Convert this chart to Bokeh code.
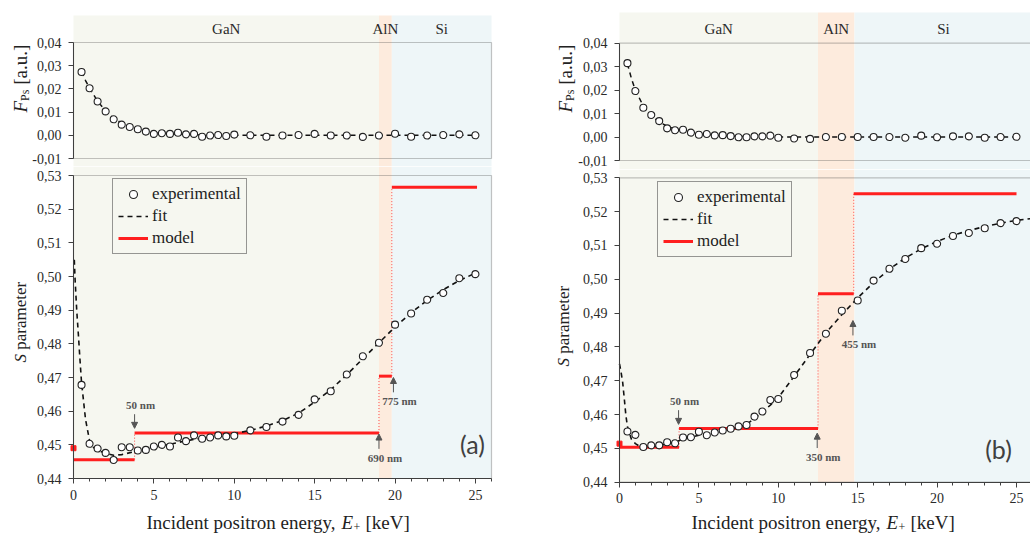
import math
from bokeh.plotting import figure
from bokeh.models import (Range1d, FixedTicker, CustomJSTickFormatter, BoxAnnotation, Label,
                          Legend, LegendItem, Arrow, NormalHead)
from bokeh.layouts import row, column
from bokeh.embed import file_html
from bokeh.resources import INLINE
from bokeh.core.properties import value

# ---------------- data ----------------
energy = [0.5, 1.0, 1.5, 2.0, 2.5, 3.0, 3.5, 4.0, 4.5, 5.0, 5.5, 6.0, 6.5, 7.0, 7.5, 8.0, 8.5, 9.0, 9.5, 10.0,
          11, 12, 13, 14, 15, 16, 17, 18, 19, 20, 21, 22, 23, 24, 25]

fps_a = [0.0273, 0.0203, 0.0146, 0.0103, 0.0069, 0.0046, 0.0036, 0.0026, 0.0016, 0.0006, 0.0009, 0.0006,
         0.0011, 0.0004, 0.0006, -0.0006, -0.0001, 0.0001, -0.0003, 0.0003,
         0.0000, -0.0006, -0.0001, 0.0001, 0.0006, -0.0001, -0.0001, -0.0007, -0.0001, 0.0007, -0.0006,
         -0.0001, 0.0001, 0.0004, 0.0000]
s_a = [0.4678, 0.4503, 0.4489, 0.4476, 0.4455, 0.4493, 0.4493, 0.4483, 0.4485, 0.4495, 0.4500, 0.4495,
       0.4522, 0.4511, 0.4528, 0.4518, 0.4522, 0.4528, 0.4525, 0.4527,
       0.4543, 0.4553, 0.4569, 0.4589, 0.4635, 0.4659, 0.4709, 0.4763, 0.4803, 0.4857, 0.4890, 0.4931,
       0.4951, 0.4995, 0.5007]

fps_b = [0.0315, 0.0196, 0.0125, 0.0094, 0.0068, 0.0037, 0.0029, 0.0031, 0.0019, 0.0010, 0.0013, 0.0007,
         0.0008, 0.0004, -0.0001, -0.0001, 0.0003, 0.0003, 0.0006, -0.0003,
         -0.0006, -0.0008, 0.0000, 0.0000, 0.0000, 0.0000, 0.0000, -0.0003, 0.0006, -0.0001, 0.0003,
         0.0003, -0.0003, 0.0000, 0.0001]
s_b = [0.4550, 0.4540, 0.4504, 0.4509, 0.4509, 0.4518, 0.4515, 0.4532, 0.4533, 0.4549, 0.4539, 0.4547,
       0.4553, 0.4558, 0.4565, 0.4569, 0.4594, 0.4609, 0.4643, 0.4646,
       0.4717, 0.4782, 0.4839, 0.4907, 0.4937, 0.4996, 0.5031, 0.5060, 0.5092, 0.5105, 0.5128, 0.5137,
       0.5151, 0.5166, 0.5172]

fitF_energy = [0.5, 0.75, 1.0, 1.5, 2.0, 2.5, 3.0, 3.5, 4.0, 5.0, 6.0, 7.0, 8.0, 10.0, 12.0, 15.0, 20.0, 25.0]
fitF_a = [0.0275, 0.0236, 0.0203, 0.0147, 0.0105, 0.0074, 0.0052, 0.0037, 0.0027, 0.0013, 0.0006, 0.0003,
          0.0001, 0.0, 0.0, 0.0, 0.0, 0.0]
fitF_b = [0.0312, 0.0250, 0.0200, 0.0132, 0.0090, 0.0064, 0.0046, 0.0034, 0.0026, 0.0014, 0.0008, 0.0004,
          0.0002, 0.0, 0.0, 0.0, 0.0, 0.0]

fitS_a_energy = [0.05, 0.1, 0.2, 0.3, 0.4, 0.5, 0.75, 1.0, 1.25, 1.5, 2, 2.5, 3, 4, 5, 6, 7, 8, 9, 10,
                 11, 12, 13, 14, 15, 16, 17, 18, 19, 20, 21, 22, 23, 24, 25]
fitS_a = [0.505, 0.499, 0.490, 0.483, 0.4755, 0.4685, 0.4575, 0.4512, 0.4492, 0.4484, 0.4475, 0.4469,
          0.4471, 0.4482, 0.4493, 0.4502, 0.4512, 0.4520, 0.4527, 0.4533, 0.4543, 0.4556, 0.4572, 0.4594,
          0.4627, 0.4664, 0.4708, 0.4756, 0.4803, 0.4850, 0.4892, 0.4929, 0.4961, 0.4988, 0.5010]

fitS_b_energy = [0.0, 0.1, 0.2, 0.3, 0.4, 0.5, 0.75, 1.0, 1.25, 1.5, 2, 2.5, 3, 3.5, 4, 5, 6, 7, 7.5, 8,
                 8.5, 9, 9.5, 10, 11, 12, 13, 14, 15, 16, 17, 18, 19, 20, 21, 22, 23, 24, 25, 26]
fitS_b = [0.4750, 0.4725, 0.4695, 0.4648, 0.4598, 0.4565, 0.4527, 0.4514, 0.4507, 0.4504, 0.4505, 0.4508,
          0.4513, 0.4519, 0.4527, 0.4539, 0.4547, 0.4556, 0.4562, 0.4571, 0.4588, 0.4607, 0.4628, 0.4650,
          0.4713, 0.4778, 0.4842, 0.4895, 0.4945, 0.4990, 0.5030, 0.5063, 0.5090, 0.5112, 0.5130, 0.5144,
          0.5156, 0.5166, 0.5174, 0.5180]

regions = ["GaN", "AlN", "Si"]
region_edges_a = [0.0, 19.0, 19.8, 26.0]
region_edges_b = [0.0, 12.5, 14.8, 26.0]

model_edges_a = [0.0, 3.8, 19.0, 19.8, 25.1]
model_S_a = [0.4456, 0.4535, 0.4704, 0.5265]
surface_S_a = 0.4490
model_edges_b = [0.0, 3.75, 12.5, 14.75, 25.0]
model_S_b = [0.4503, 0.4559, 0.4957, 0.5253]
surface_S_b = 0.4514

ann_text_a = ["50 nm", "690 nm", "775 nm"]
ann_E_a = [3.8, 19.0, 19.9]
ann_tip_a = [0.4549, 0.4532, 0.4700]
ann_dir_a = ["down", "up", "up"]
ann_text_b = ["50 nm", "350 nm", "455 nm"]
ann_E_b = [3.72, 12.45, 14.7]
ann_tip_b = [0.4571, 0.4545, 0.4878]
ann_dir_b = ["down", "up", "up"]

F_ticks = [-0.01, 0.0, 0.01, 0.02, 0.03, 0.04]
S_ticks = [0.44, 0.45, 0.46, 0.47, 0.48, 0.49, 0.50, 0.51, 0.52, 0.53]
E_ticks = [0, 5, 10, 15, 20, 25]
E_minor = list(range(0, 27))

# ---------------- style / layout ----------------
SERIF = "Liberation Serif"
REGION_COLORS = ["#f6f7f0", "#fdebdd", "#eef6f8"]
AX = "#404040"
RED = "#ff1f1f"
TOTAL_H = 536
fmt = CustomJSTickFormatter(code="return tick.toFixed(2).replace('.', ',');")


def style_axes(p):
    p.grid.visible = False
    p.outline_line_color = None
    p.background_fill_color = "white"
    p.border_fill_color = "white"
    for ax in p.axis:
        ax.axis_line_color = AX
        ax.major_tick_line_color = AX
        ax.major_tick_out = 5
        ax.major_tick_in = 0
        ax.minor_tick_line_color = AX
        ax.minor_tick_out = 3
        ax.minor_tick_in = 0
        ax.major_label_text_font = SERIF
        ax.major_label_text_font_size = "14px"
        ax.major_label_text_color = "#2a2a2a"
    p.yaxis.major_label_standoff = 7
    p.xaxis.major_label_standoff = 6


def lab(p, text, x, y, size, style="normal", angle=0.0, align="left", baseline="middle", color="#222"):
    p.add_layout(Label(x=x, y=y, x_units="screen", y_units="screen", text=text, angle=angle,
                       text_font=SERIF, text_font_size=f"{size}px", text_font_style=style,
                       text_align=align, text_baseline=baseline, text_color=color))


def yrange(v_hi, px_hi, v_lo, px_lo, top_px, bottom_px):
    scale = (px_lo - px_hi) / (v_hi - v_lo)
    return Range1d(v_lo - (bottom_px - px_lo) / scale, v_hi + (px_hi - top_px) / scale)


def make_panel(fps, S, fitF, fitS_E, fitS, region_edges, m_edges, m_S, surf, ann_text, ann_E, ann_tip,
               ann_dir, tag, geo):
    W = geo["width"]
    top_h = geo["top_h"]
    bot_h = TOTAL_H - top_h
    x0px, pxk = geo["x0"], geo["pxk"]
    xr = Range1d(-x0px / pxk, (W - x0px) / pxk)
    x_vis_end = min(region_edges[-1], (W - x0px) / pxk)
    box_right = region_edges[-1]

    yr1 = yrange(F_ticks[-1], geo["f_hi"], F_ticks[0], geo["f_lo"], 0, top_h)
    yr2 = yrange(S_ticks[-1], geo["s_hi"] - top_h, S_ticks[0], geo["s_lo"] - top_h, 0, bot_h)
    shade_top = F_ticks[-1] + (geo["f_hi"] - geo["shade_px"]) * (F_ticks[-1] - F_ticks[0]) / (geo["f_lo"] - geo["f_hi"])

    common = dict(output_backend="svg", toolbar_location=None, min_border=0, min_border_left=0,
                  min_border_right=0, min_border_top=0, min_border_bottom=0, x_range=xr)
    p1 = figure(frame_width=W, frame_height=top_h, y_range=yr1, **common)
    p2 = figure(frame_width=W, frame_height=bot_h, y_range=yr2, **common)

    for i in range(len(regions)):
        p1.add_layout(BoxAnnotation(left=region_edges[i], right=region_edges[i + 1], top=shade_top,
                                    fill_color=REGION_COLORS[i], fill_alpha=1.0, line_alpha=0,
                                    level="underlay"))
        p2.add_layout(BoxAnnotation(left=region_edges[i], right=region_edges[i + 1], bottom=S_ticks[0],
                                    fill_color=REGION_COLORS[i], fill_alpha=1.0, line_alpha=0,
                                    level="underlay"))

    # ---------- top panel: F_Ps ----------
    p1.xaxis.visible = False
    p1.yaxis.fixed_location = 0
    p1.yaxis.ticker = FixedTicker(ticks=F_ticks)
    p1.yaxis.formatter = fmt
    p1.yaxis.bounds = (F_ticks[0], F_ticks[-1])
    style_axes(p1)
    p1.yaxis.minor_tick_line_color = None
    p1.add_layout(BoxAnnotation(left=0, right=box_right, bottom=F_ticks[0], top=F_ticks[-1],
                                fill_alpha=0, line_color=AX, line_width=1.2))
    centers = [(region_edges[i] + region_edges[i + 1]) / 2 for i in range(len(regions))]
    p1.text(x=centers, y=[F_ticks[-1] + 0.0059] * len(regions), text=regions, text_font=value(SERIF),
            text_font_size="15px", text_align="center", text_baseline="middle", text_color="#2a2a2a")
    p1.line(fitF_energy, fitF, line_dash="5 4", line_width=1.5, color="#111")
    p1.scatter(energy, fps, size=7, marker="circle", fill_color="white", line_color="#222", line_width=1.1)

    fx, fy = geo["flab"]
    fy = fy - (166 - top_h)
    lab(p1, "F", fx, fy, 19, style="italic", angle=math.pi / 2)
    lab(p1, "Ps", fx + 4, fy + 11.6, 12, angle=math.pi / 2)
    lab(p1, "[a.u.]", fx, fy + 27.7, 19, angle=math.pi / 2)

    # ---------- bottom panel: S ----------
    p2.yaxis.fixed_location = 0
    p2.xaxis.fixed_location = S_ticks[0]
    p2.yaxis.ticker = FixedTicker(ticks=S_ticks)
    p2.yaxis.formatter = fmt
    p2.yaxis.bounds = (S_ticks[0], S_ticks[-1])
    p2.xaxis.ticker = FixedTicker(ticks=E_ticks, minor_ticks=E_minor)
    p2.xaxis.bounds = (0, x_vis_end)
    style_axes(p2)
    p2.yaxis.minor_tick_line_color = None
    p2.add_layout(BoxAnnotation(left=0, right=box_right, bottom=S_ticks[0], top=S_ticks[-1],
                                fill_alpha=0, line_color=AX, line_width=1.2))

    p2.segment(x0=m_edges[1:-1], x1=m_edges[1:-1], y0=m_S[:-1], y1=m_S[1:], color=RED, line_width=1,
               line_dash="1 2", alpha=0.8)
    p2.segment(x0=[m_edges[0]], x1=[m_edges[0]], y0=[surf], y1=[m_S[0]], color=RED, line_width=1,
               line_dash="1 2", alpha=0.8)
    p2.scatter([m_edges[0]], [surf], size=5, marker="square", color=RED)
    r_model = p2.segment(x0=m_edges[:-1], x1=m_edges[1:], y0=m_S, y1=m_S, color=RED, line_width=3)

    r_fit = p2.line(fitS_E, fitS, line_dash="5 4", line_width=1.6, color="#111")
    r_exp = p2.scatter(energy, S, size=7, marker="circle", fill_color="white", line_color="#222",
                       line_width=1.1)

    for t, e, tip, d in zip(ann_text, ann_E, ann_tip, ann_dir):
        if d == "down":
            start = tip + 0.0042
            ty = start + 0.0026
        else:
            start = tip - 0.0044
            ty = start - 0.0026
        p2.add_layout(Arrow(end=NormalHead(size=6, fill_color="#555", line_color="#555", line_width=1),
                            x_start=e, y_start=start, x_end=e, y_end=tip, line_color="#555",
                            line_width=1))
        p2.add_layout(Label(x=e, y=ty, x_offset=6, text=t, text_align="center", text_baseline="middle",
                            text_font=SERIF, text_font_style="bold", text_font_size="11px",
                            text_color="#555"))

    tx, ty_ = geo["tag"]
    p2.add_layout(Label(x=tx, y=ty_, x_units="screen", y_units="screen", text=tag, text_align="center",
                        text_baseline="middle", text_font="Lato", text_font_size="25px",
                        text_color="#404040"))

    legend = Legend(items=[LegendItem(label="experimental", renderers=[r_exp]),
                           LegendItem(label="fit", renderers=[r_fit]),
                           LegendItem(label="model", renderers=[r_model])],
                    location=geo["legend"], label_text_font=SERIF, label_text_font_size="17px",
                    label_text_color="#222", glyph_width=30, glyph_height=20, label_height=20,
                    label_standoff=4, padding=5, spacing=2, margin=0,
                    background_fill_color=REGION_COLORS[0], background_fill_alpha=1.0,
                    border_line_color="#333", border_line_width=1)
    p2.add_layout(legend)

    sx, sy = geo["slab"]
    lab(p2, "S", sx, sy, 17, style="italic", angle=math.pi / 2)
    lab(p2, "parameter", sx, sy + 12.8, 17, angle=math.pi / 2)
    ex, ey = geo["xlab"]
    lab(p2, "Incident positron energy,", ex, ey, 19)
    lab(p2, "E", ex + 195, ey, 19, style="italic")
    lab(p2, "+", ex + 207, ey - 4, 12)
    lab(p2, "[keV]", ex + 219, ey, 19)

    return column(p1, p2)


geo_a = dict(width=510, top_h=166, x0=73, pxk=16.077, f_hi=42, f_lo=158, s_hi=175, s_lo=478, shade_px=15,
             flab=(20, 54), slab=(20, 174), xlab=(146, 14), tag=(472, 93), legend=(112, 282))
geo_b = dict(width=520, top_h=169, x0=109, pxk=15.88, f_hi=42.7, f_lo=160, s_hi=177.3, s_lo=481.7,
             shade_px=12, flab=(55, 54), slab=(53, 170), xlab=(181, 14), tag=(488, 88), legend=(147, 279))

left = make_panel(fps_a, s_a, fitF_a, fitS_a_energy, fitS_a, region_edges_a, model_edges_a, model_S_a,
                  surface_S_a, ann_text_a, ann_E_a, ann_tip_a, ann_dir_a, "(a)", geo_a)
right = make_panel(fps_b, s_b, fitF_b, fitS_b_energy, fitS_b, region_edges_b, model_edges_b, model_S_b,
                   surface_S_b, ann_text_b, ann_E_b, ann_tip_b, ann_dir_b, "(b)", geo_b)

layout = row(left, right)
open("out.html", "w").write(file_html(layout, INLINE))
